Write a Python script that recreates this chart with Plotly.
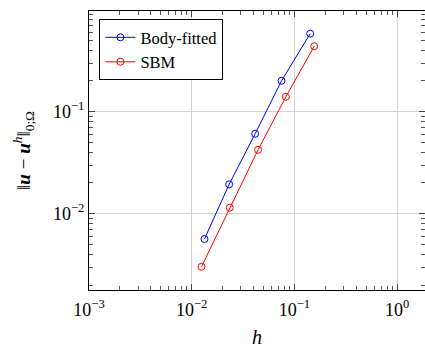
import plotly.graph_objects as go

# Data
blue_h = [0.01333, 0.02314, 0.0415, 0.0750, 0.1426]
blue_err = [0.00565, 0.0194, 0.0608, 0.201, 0.582]
red_h = [0.01246, 0.0235, 0.0443, 0.0826, 0.156]
red_err = [0.00302, 0.01146, 0.0423, 0.140, 0.438]

x_tickvals = [1e-3, 1e-2, 1e-1, 1e0]
x_ticktext = ["10<sup>−3</sup>", "10<sup>−2</sup>", "10<sup>−1</sup>", "10<sup>0</sup>"]
y_tickvals = [1e-2, 1e-1]
y_ticktext = ["10<sup>−2</sup>", "10<sup>−1</sup>"]

FONT = "Liberation Serif, Times New Roman, serif"

fig = go.Figure()
fig.add_trace(go.Scatter(
    x=blue_h, y=blue_err, mode="lines+markers", name="Body-fitted",
    line=dict(color="#0000ff", width=1),
    marker=dict(symbol="circle-open", size=7, color="#0000ff", line=dict(width=1)),
))
fig.add_trace(go.Scatter(
    x=red_h, y=red_err, mode="lines+markers", name="SBM",
    line=dict(color="#ff0000", width=1),
    marker=dict(symbol="circle-open", size=7, color="#ff0000", line=dict(width=1)),
))

axis_common = dict(
    type="log", automargin=False,
    showline=True, linecolor="black", linewidth=1, mirror="allticks",
    ticks="inside", ticklen=6, tickcolor="#444", tickwidth=1,
    showgrid=True, gridcolor="#d3d3d3", gridwidth=1,
    zeroline=False,
    tickfont=dict(family=FONT, size=18, color="black"),
    minor=dict(ticks="inside", ticklen=4, tickcolor="#555", tickwidth=1,
               dtick="D1", showgrid=False),
)

fig.update_layout(
    width=425, height=348, autosize=False,
    margin=dict(l=89, r=0, t=11, b=58, autoexpand=False),
    paper_bgcolor="white", plot_bgcolor="white",
    font=dict(family=FONT, size=17, color="black"),
    showlegend=True,
    legend=dict(
        x=0.031, y=0.971, xanchor="left", yanchor="top",
        bgcolor="white", bordercolor="black", borderwidth=1,
        font=dict(family=FONT, size=16.5, color="black"),
        tracegroupgap=0, itemwidth=30,
    ),
    xaxis=dict(
        **axis_common,
        range=[-3, 0.272],
        tickvals=x_tickvals, ticktext=x_ticktext,
        ticklabelstandoff=3,
        title=dict(text="<i>h</i>", font=dict(family=FONT, size=20), standoff=14),
    ),
    yaxis=dict(
        **axis_common,
        range=[-2.748, -0.013],
        tickvals=y_tickvals, ticktext=y_ticktext,
        title=dict(text="‖<b><i>u</i></b> − <b><i>u</i></b><sup><i>h</i></sup>‖<sub>0;Ω</sub>",
                   font=dict(family=FONT, size=19), standoff=17),
    ),
)

fig.write_html(
    "out.html",
    config={"responsive": False, "displayModeBar": False},
    post_script="document.body.style.margin='0';document.body.style.overflow='hidden';",
)
